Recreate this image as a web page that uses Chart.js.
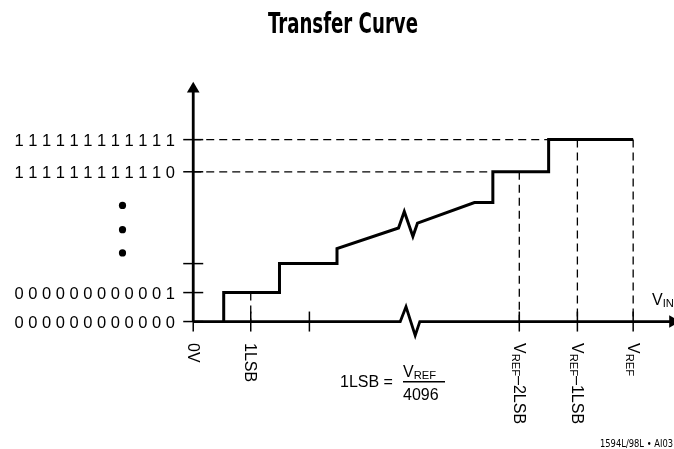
<!DOCTYPE html>
<html>
<head>
<meta charset="utf-8">
<title>Transfer Curve</title>
<script src="https://cdn.jsdelivr.net/npm/chart.js@4/dist/chart.umd.min.js"></script>
<style>
  html, body { margin: 0; padding: 0; background: #fff; }
  canvas { display: block; }
</style>
</head>
<body>
<canvas id="transferChart" width="674" height="449"></canvas>
<script>
// Staircase (x in LSB, y in output code steps)
const stairX = [0.53, 0.53, 1.5, 1.5, 2.5, 2.5, 3.57, 3.67, 3.82, 3.9, 4.89, 5.21, 5.21, 6.18, 6.18, 7.65];
const stairY = [0, 1, 1, 2, 2, 2.52, 3.23, 3.8, 2.94, 3.4, 4.11, 4.11, 5.17, 5.17, 6.28, 6.28];

// Output code axis
const codeLevels = [0, 1, 2, 5.17, 6.28];
const codeLabels = ['000000000000', '000000000001', '', '111111111110', '111111111111'];

// Input voltage axis ({..} = subscript)
const inputTicks = [0, 1, 2.02, 5.67, 6.68, 7.65];
const inputLabels = ['0V', '1LSB', '', 'V{REF}\u20132LSB', 'V{REF}\u20131LSB', 'V{REF}'];

// X axis with break mark, y axis
const axisX = [0, 3.6, 3.7, 3.86, 3.94, 8.3];
const axisY = [0, 0, 0.51, -0.48, 0, 0];
const yAxisTop = 8.0;

// "more codes" dots
const dotsY = [4.01, 3.17, 2.37];
const dotsX = -1.23;

const pts = (xs, ys) => xs.map((x, i) => ({ x: x, y: ys[i] }));

// Dashed guide lines from the top steps down to the input ticks
const guides = [
  [{ x: 0, y: codeLevels[4] }, { x: stairX[13], y: codeLevels[4] }],
  [{ x: 0, y: codeLevels[3] }, { x: stairX[11], y: codeLevels[3] }],
  [{ x: inputTicks[1], y: codeLevels[1] }, { x: inputTicks[1], y: 0 }],
  [{ x: inputTicks[3], y: codeLevels[3] }, { x: inputTicks[3], y: 0 }],
  [{ x: inputTicks[4], y: codeLevels[4] }, { x: inputTicks[4], y: 0 }],
  [{ x: inputTicks[5], y: codeLevels[4] }, { x: inputTicks[5], y: 0 }]
];

const FONT = '"Liberation Sans", Arial, sans-serif';
const NARROW = '"Liberation Sans Narrow", "DejaVu Sans Condensed", "Liberation Sans", sans-serif';

// draws text with {sub} segments, starting at x
function richText(ctx, text, x, y, size) {
  const parts = text.split(/(\{[^}]*\})/).filter(s => s.length);
  parts.forEach(p => {
    if (p[0] === '{') {
      const s = p.slice(1, -1);
      ctx.font = (size * 0.7) + 'px ' + FONT;
      ctx.fillText(s, x, y + 1.5);
      x += ctx.measureText(s).width;
    } else {
      ctx.font = size + 'px ' + FONT;
      ctx.fillText(p, x, y);
      x += ctx.measureText(p).width;
    }
  });
}

// squeezes text horizontally to a target width
function fitText(ctx, text, x, y, width, align) {
  const w = ctx.measureText(text).width;
  const k = width / w;
  ctx.save();
  ctx.translate(align === 'right' ? x - width : (align === 'center' ? x - width / 2 : x), y);
  ctx.scale(k, 1);
  ctx.textAlign = 'left';
  ctx.fillText(text, 0, 0);
  ctx.restore();
}

const textPlugin = {
  id: 'diagramText',
  afterDatasetsDraw(chart) {
    const ctx = chart.ctx;
    const sx = chart.scales.x, sy = chart.scales.y;
    ctx.save();
    ctx.fillStyle = '#000';
    ctx.textBaseline = 'alphabetic';

    // title
    ctx.font = 'bold 28px ' + NARROW;
    fitText(ctx, 'Transfer Curve', 343, 33, 150, 'center');

    // code labels
    ctx.font = '16.5px ' + FONT;
    ctx.textAlign = 'right';
    codeLevels.forEach((v, i) => {
      if (!codeLabels[i]) return;
      ctx.fillText(codeLabels[i].split('').join(' '), 175, sy.getPixelForValue(v) + 6);
    });

    // input labels, rotated
    ctx.textAlign = 'left';
    inputTicks.forEach((v, i) => {
      if (!inputLabels[i]) return;
      ctx.save();
      ctx.translate(sx.getPixelForValue(v), 343);
      ctx.rotate(Math.PI / 2);
      richText(ctx, inputLabels[i], 0, 5.5, 16);
      ctx.restore();
    });

    // 1LSB = VREF / 4096
    ctx.font = '16px ' + FONT;
    ctx.fillText('1LSB =', 340, 387);
    richText(ctx, 'V{REF}', 403, 377, 16);
    ctx.fillRect(403, 381, 42, 1.5);
    ctx.font = '16px ' + FONT;
    ctx.fillText('4096', 403, 400);

    // VIN
    richText(ctx, 'V{IN}', 652, 305, 16);

    // figure id
    ctx.font = '10px ' + NARROW;
    fitText(ctx, '1594L/98L \u2022 AI03', 673, 447, 73, 'right');
    ctx.restore();
  }
};

const lineSet = (data, width, dash) => ({
  data: data,
  showLine: true,
  borderColor: '#000',
  borderWidth: width,
  borderDash: dash || [],
  pointRadius: 0,
  tension: 0,
  clip: false
});

const datasets = [
  lineSet(pts(stairX, stairY), 3),
  lineSet(pts(axisX, axisY), 2.8),
  lineSet([{ x: 0, y: 0 }, { x: 0, y: yAxisTop }], 2.8),
  // arrow heads
  {
    data: [{ x: 0, y: 8.03 }, { x: 8.34, y: 0 }],
    pointStyle: 'triangle',
    rotation: [0, 90],
    pointRadius: 7.3,
    backgroundColor: '#000',
    borderColor: '#000',
    borderWidth: 0,
    showLine: false,
    clip: false
  },
  // tick marks on code axis
  {
    data: codeLevels.map(v => ({ x: 0, y: v })),
    pointStyle: 'line',
    pointRadius: 10,
    borderColor: '#000',
    borderWidth: 1.5,
    showLine: false,
    clip: false
  },
  // tick marks on input axis
  {
    data: inputTicks.map(v => ({ x: v, y: 0 })),
    pointStyle: 'line',
    rotation: 90,
    pointRadius: 10,
    borderColor: '#000',
    borderWidth: 1.5,
    showLine: false,
    clip: false
  },
  {
    data: dotsY.map(v => ({ x: dotsX, y: v })),
    pointRadius: 3.6,
    backgroundColor: '#000',
    borderWidth: 0,
    showLine: false,
    clip: false
  }
].concat(guides.map(g => lineSet(g, 1.3, [8, 5])));

new Chart(document.getElementById('transferChart').getContext('2d'), {
  type: 'scatter',
  data: { datasets: datasets },
  options: {
    responsive: false,
    animation: false,
    devicePixelRatio: 1,
    layout: { padding: 0, autoPadding: false },
    plugins: {
      legend: { display: false },
      tooltip: { enabled: false },
      title: { display: false }
    },
    scales: {
      x: { type: 'linear', min: -3.36, max: 8.36, display: false },
      y: { type: 'linear', min: -4.4, max: 11.1, display: false }
    }
  },
  plugins: [textPlugin]
});
</script>
</body>
</html>
